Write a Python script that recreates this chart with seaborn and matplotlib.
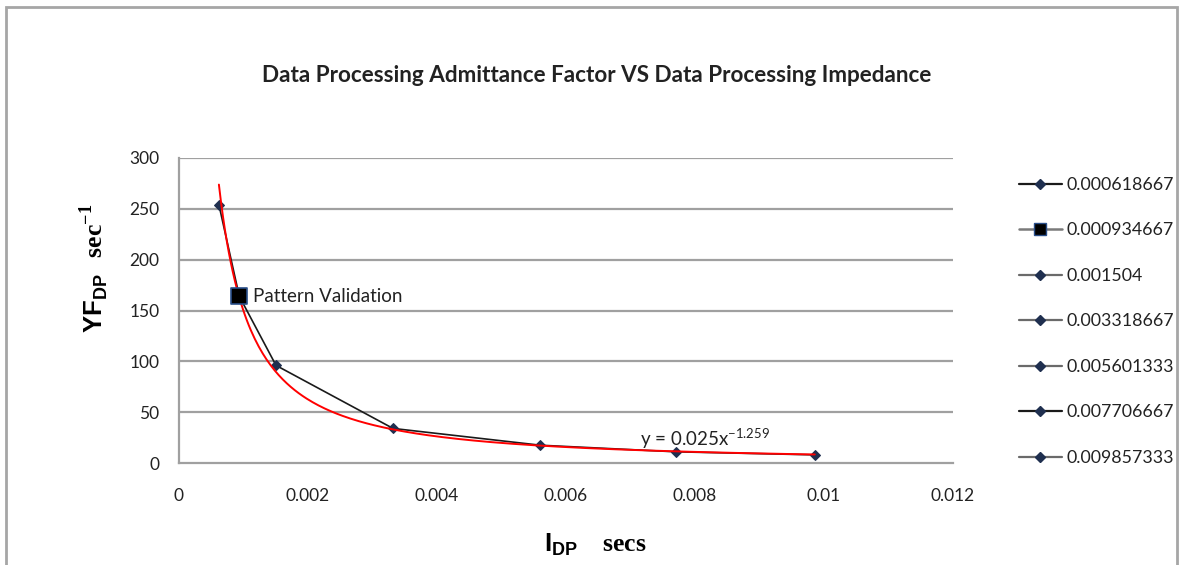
import numpy as np
import pandas as pd
import matplotlib
matplotlib.use("Agg")
import matplotlib.pyplot as plt
from matplotlib.lines import Line2D
from matplotlib.patches import Rectangle
import seaborn as sns

# ---- data ----
x_vals = [0.000618667, 0.000934667, 0.001504, 0.003318667, 0.005601333, 0.007706667, 0.009857333]
y_vals = [254, 164, 96, 34, 17.5, 11, 8]
legend_labels = ["0.000618667", "0.000934667", "0.001504", "0.003318667",
                 "0.005601333", "0.007706667", "0.009857333"]
highlight_index = 1
highlight_label = "Pattern Validation"
trend_a = 0.025
trend_b = -1.259
x_ticks = [0, 0.002, 0.004, 0.006, 0.008, 0.01, 0.012]
x_tick_labels = ["0", "0.002", "0.004", "0.006", "0.008", "0.01", "0.012"]
y_ticks = [0, 50, 100, 150, 200, 250, 300]
title = "Data Processing Admittance Factor VS Data Processing Impedance"

sns.set_theme(style="white")
plt.rcParams['font.family'] = ['Lato', 'DejaVu Sans']
plt.rcParams['mathtext.fontset'] = 'custom'
plt.rcParams['mathtext.bf'] = 'Liberation Sans:bold'
plt.rcParams['mathtext.rm'] = 'Liberation Serif:bold'

df = pd.DataFrame({"x": x_vals, "y": y_vals})

fig = plt.figure(figsize=(11.79, 5.65), dpi=100)
ax = fig.add_axes([179/1179, 1 - 463/565, (953 - 179)/1179, (463 - 158)/565])

# outer frame
fig.patches.append(Rectangle((6/1179, -0.2), (1177 - 6)/1179, 1.2 - 7/565,
                             transform=fig.transFigure, fill=False,
                             edgecolor="#a6a6a6", linewidth=2))

# grid
for yt in y_ticks[1:]:
    ax.axhline(yt, color="#a0a0a0", linewidth=1.6, zorder=0)

# series line
sns.lineplot(data=df, x="x", y="y", ax=ax, color="#1a1a1a", linewidth=1.2,
             marker="D", markersize=5, markerfacecolor="#1f2f4f",
             markeredgecolor="#1f2f4f", sort=False, zorder=3)

# trendline from the displayed equation
xt = np.linspace(min(x_vals), max(x_vals), 300)
trend_df = pd.DataFrame({"x": xt, "y": trend_a * xt ** trend_b})
sns.lineplot(data=trend_df, x="x", y="y", ax=ax, color="#ff0000", linewidth=1.4, zorder=4)

# highlighted point
hl = df.iloc[[highlight_index]]
sns.scatterplot(data=hl, x="x", y="y", ax=ax, marker="s", s=120, color="black",
                edgecolor="#2a4f8a", linewidth=1.2, zorder=5)
ax.annotate(highlight_label, (x_vals[highlight_index], y_vals[highlight_index]),
            xytext=(10, 0), textcoords="offset points", va="center", ha="left",
            fontsize=13.5, color="#222222")

# equation
ax.text(0.00715, 24, r"y = 0.025x$^{\mathregular{-1.259}}$", fontsize=13.5,
        color="#222222", ha="left", va="center")

ax.set_xlim(0, 0.012)
ax.set_ylim(0, 300)
ax.set_xticks(x_ticks)
ax.set_xticklabels(x_tick_labels)
ax.set_yticks(y_ticks)
ax.tick_params(axis="both", labelsize=12.5, colors="#333333", length=6,
               width=1.4, direction="out", pad=8)
ax.tick_params(axis="x", pad=12)
ax.tick_params(axis="both", labelcolor="#222222")
for side in ["top", "right"]:
    ax.spines[side].set_visible(False)
for side in ["left", "bottom"]:
    ax.spines[side].set_color("#a0a0a0")
    ax.spines[side].set_linewidth(1.6)
ax.set_xlabel("")
ax.set_ylabel("")

# axis labels
fig.text(94/1179, 1 - 268/565, r"$\mathbf{YF}_{\mathbf{DP}}\ \ \mathrm{sec}^{\mathrm{-1}}$",
         rotation=90, fontsize=18.5, ha="center", va="center", color="black")
fig.text(595/1179, 1 - 545/565, r"$\mathbf{I}_{\mathbf{DP}}\ \ \ \mathrm{secs}$",
         fontsize=18.5, ha="center", va="center", color="black")

fig.text(597/1179, 1 - 75/565, title, fontsize=16.2, fontweight="bold",
         ha="center", va="center", color="#222222")

# legend
handles = []
for i, lab in enumerate(legend_labels):
    if i == highlight_index:
        h = Line2D([0], [0], color="#7a7a7a", linewidth=1.8, marker="s", markersize=8,
                   markerfacecolor="black", markeredgecolor="#2a4f8a")
    else:
        h = Line2D([0], [0], color="#1a1a1a" if i in (0, 5) else "#6a6a6a", linewidth=1.6,
                   marker="D", markersize=5, markerfacecolor="#1f2f4f",
                   markeredgecolor="#1f2f4f")
    handles.append(h)
fig.legend(handles, legend_labels, loc="upper left",
           bbox_to_anchor=(1010/1179, 1 - 168/565), frameon=False, fontsize=12.8,
           handlelength=2.4, handletextpad=0.3, labelspacing=1.66, borderpad=0,
           labelcolor="#222222")

fig.savefig("out.png", dpi=100)
